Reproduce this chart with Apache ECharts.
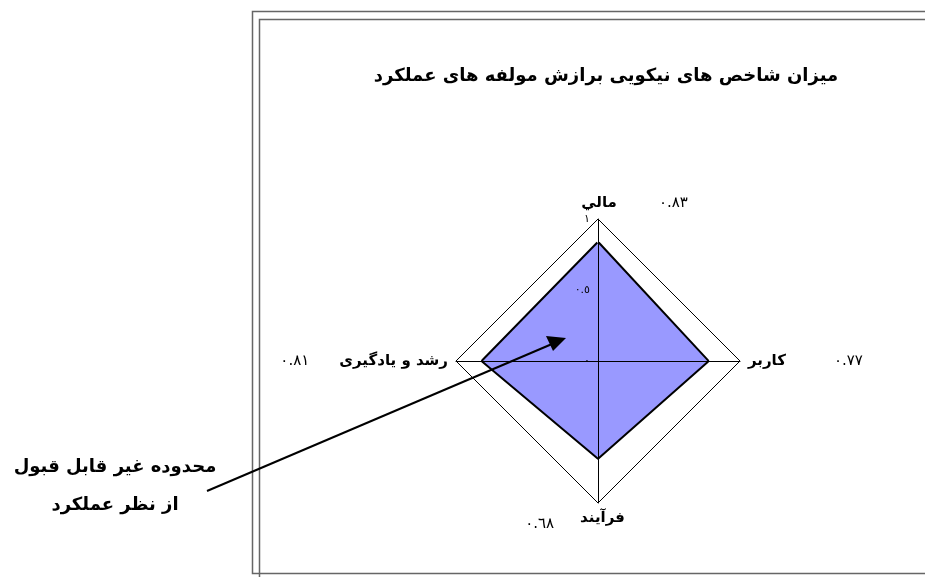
<!DOCTYPE html>
<html>
<head>
<meta charset="utf-8">
<script src="https://cdn.jsdelivr.net/npm/echarts@6/dist/echarts.min.js"></script>
<style>
html,body{margin:0;padding:0;background:#fff;}
#c{width:925px;height:577px;}
</style>
</head>
<body>
<div id="c"></div>
<script>
// ---- data ----
var titleText = 'میزان شاخص های نیکویی برازش مولفه های عملکرد';
var categories = ['مالي', 'رشد و يادگيری', 'فرآیند', 'کاربر'];
var values = [0.83, 0.81, 0.68, 0.77];
var axisMax = 1;
var axisSplits = 2; // ticks 0, 0.5, 1
var noteLines = ['محدوده غير قابل قبول', 'از نظر عملکرد'];

function toArabicDigits(v) {
  var d = '٠١٢٣٤٥٦٧٨٩';
  return String(v).replace(/[0-9]/g, function (c) { return d[+c]; });
}

var FONT = 'DejaVu Sans';
var chart = echarts.init(document.getElementById('c'), null, {renderer: 'canvas'});

var indicators = categories.map(function (c, i) {
  return {
    name: c, max: axisMax,
    axisLabel: {show: i === 0}
  };
});

// name layout per indicator: order of rich tokens
function nameFmt(name) {
  var i = categories.indexOf(name);
  var v = toArabicDigits(values[i]);
  if (i === 0) return '{sl|}{n|' + name + '}{s0|}{v|' + v + '}';
  if (i === 1) return '{v|' + v + '}{s1|}{n|' + name + '}';
  if (i === 2) return '{vb|' + v + '}{s2|}{nb|' + name + '}{sr|}';
  return '{n|' + name + '}{s3|}{v|' + v + '}';
}

var option = {
  backgroundColor: '#fff',
  animation: false,
  title: {
    text: titleText,
    left: 601, top: 62, textAlign: 'center',
    textStyle: {fontFamily: FONT, fontSize: 18, fontWeight: 'bold', color: '#000'}
  },
  radar: {
    center: [598, 361],
    radius: 142,
    startAngle: 90,
    shape: 'polygon',
    splitNumber: axisSplits,
    z: 3,
    indicator: indicators,
    nameGap: 8,
    axisName: {
      formatter: nameFmt,
      color: '#000',
      rich: {
        n: {fontFamily: FONT, fontSize: 15, fontWeight: 'bold', color: '#000'},
        nb: {fontFamily: FONT, fontSize: 15, fontWeight: 'bold', color: '#000', verticalAlign: 'top'},
        v: {fontFamily: FONT, fontSize: 15, color: '#000'},
        vb: {fontFamily: FONT, fontSize: 15, color: '#000', verticalAlign: 'top', padding: [6, 0, 0, 0]},
        sl: {width: 73},
        s0: {width: 42},
        s1: {width: 30},
        s2: {width: 26},
        sr: {width: 46},
        s3: {width: 48}
      }
    },
    axisLine: {show: true, lineStyle: {color: '#000', width: 1}},
    splitLine: {show: true, lineStyle: {color: ['rgba(0,0,0,0)', 'rgba(0,0,0,0)', '#000'], width: 1}},
    splitArea: {show: false},
    axisTick: {show: false},
    axisLabel: {
      show: true,
      color: '#000',
      fontFamily: FONT,
      fontSize: 11,
      margin: 8,
      formatter: function (v) { return toArabicDigits(v); }
    }
  },
  series: [{
    type: 'radar',
    z: 1,
    symbol: 'none',
    lineStyle: {color: '#000', width: 4, opacity: 1},
    areaStyle: {color: '#9999FF', opacity: 1},
    data: [{
      value: values, name: titleText,
      lineStyle: {color: '#000', width: 4, opacity: 1}
    }]
  }],
  graphic: [
    {type: 'rect', silent: true, z: 10,
     shape: {x: 252.5, y: 11.5, width: 700, height: 562},
     style: {fill: 'none', stroke: '#666', lineWidth: 1.5}},
    {type: 'rect', silent: true, z: 10,
     shape: {x: 259.5, y: 19.5, width: 700, height: 620},
     style: {fill: 'none', stroke: '#666', lineWidth: 1.5}},
    {type: 'line', silent: true, z: 20,
     shape: {x1: 207, y1: 491, x2: 552, y2: 344},
     style: {stroke: '#000', lineWidth: 2}},
    {type: 'polygon', silent: true, z: 20,
     shape: {points: [[566, 338], [546, 336], [553, 351]]},
     style: {fill: '#000'}},
    {type: 'text', silent: true, z: 20,
     x: 115, y: 467,
     style: {text: noteLines[0], font: 'bold 18px "DejaVu Sans"', fill: '#000', textAlign: 'center', textVerticalAlign: 'middle'}},
    {type: 'text', silent: true, z: 20,
     x: 115, y: 505,
     style: {text: noteLines[1], font: 'bold 18px "DejaVu Sans"', fill: '#000', textAlign: 'center', textVerticalAlign: 'middle'}}
  ]
};
chart.setOption(option);
</script>
</body>
</html>
